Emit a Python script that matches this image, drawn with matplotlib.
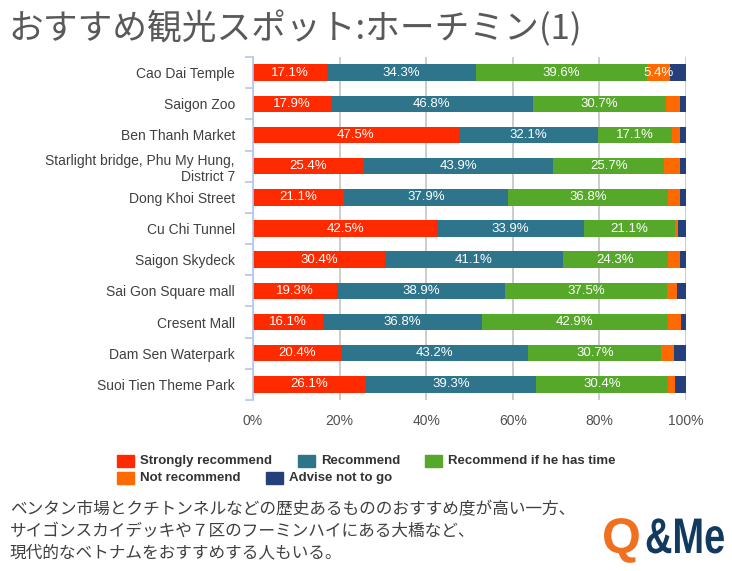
import matplotlib.pyplot as plt
from matplotlib.patches import Rectangle, PathPatch
from matplotlib.textpath import TextPath
from matplotlib.font_manager import FontProperties
from matplotlib.ticker import FixedLocator
from matplotlib.transforms import Affine2D, IdentityTransform

plt.rcParams['font.family'] = ['Liberation Sans', 'DejaVu Sans']

# data (% of respondents)
spots = ['Cao Dai Temple', 'Saigon Zoo', 'Ben Thanh Market',
         'Starlight bridge, Phu My Hung,\nDistrict 7', 'Dong Khoi Street',
         'Cu Chi Tunnel', 'Saigon Skydeck', 'Sai Gon Square mall',
         'Cresent Mall', 'Dam Sen Waterpark', 'Suoi Tien Theme Park']
strongly = [17.1, 17.9, 47.5, 25.4, 21.1, 42.5, 30.4, 19.3, 16.1, 20.4, 26.1]
recommend = [34.3, 46.8, 32.1, 43.9, 37.9, 33.9, 41.1, 38.9, 36.8, 43.2, 39.3]
if_time = [39.6, 30.7, 17.1, 25.7, 36.8, 21.1, 24.3, 37.5, 42.9, 30.7, 30.4]
not_rec = [5.4, 3.3, 1.8, 3.6, 2.8, 0.7, 2.8, 2.3, 3.0, 2.9, 1.7]
advise_not = [3.6, 1.3, 1.5, 1.4, 1.4, 1.8, 1.4, 2.0, 1.2, 2.8, 2.5]

series_names = ['Strongly recommend', 'Recommend', 'Recommend if he has time',
                'Not recommend', 'Advise not to go']
colors = ['#ff2a00', '#2e758c', '#56a82a', '#ff6a00', '#253f7a']
x_ticks = [0, 20, 40, 60, 80, 100]

title = 'おすすめ観光スポット:ホーチミン(1)'
note = ['ベンタン市場とクチトンネルなどの歴史あるもののおすすめ度が高い一方、',
        'サイゴンスカイデッキや７区のフーミンハイにある大橋など、',
        '現代的なベトナムをおすすめする人もいる。']

W, H = 732, 571
fig = plt.figure(figsize=(W / 100, H / 100), dpi=100)
ax = fig.add_axes([253 / W, 1 - 400 / H, 433 / W, 343 / H])

y = list(range(len(spots)))
left = [0.0] * len(spots)
for vals, name, col in zip([strongly, recommend, if_time, not_rec, advise_not],
                           series_names, colors):
    ax.barh(y, vals, left=left, height=0.53, color=col, label=name, zorder=2)
    for i, v in enumerate(vals):
        if v >= 5:
            ax.text(left[i] + v / 2, i, f'{v:.1f}%', ha='center', va='center',
                    color='white', fontsize=9.5, zorder=3)
    left = [l + v for l, v in zip(left, vals)]

ax.set_xlim(0, 100)
ax.set_ylim(len(spots) - 0.5, -0.5)
ax.set_xticks(x_ticks)
ax.set_xticklabels([f'{t}%' for t in x_ticks], fontsize=10, color='#505050')
ax.tick_params(axis='x', length=0, pad=10)
ax.grid(axis='x', color='#c8c8c8', linewidth=1.3, zorder=0)
ax.set_axisbelow(True)

ax.set_yticks(y)
ax.set_yticklabels(spots, fontsize=10, color='#404040')
ax.tick_params(axis='y', which='major', length=0, pad=13)
ax.yaxis.set_minor_locator(FixedLocator([i - 0.5 for i in range(len(spots) + 1)]))
ax.tick_params(axis='y', which='minor', length=6, color='#b4c7e7', width=1.2)

for s in ['top', 'right', 'bottom']:
    ax.spines[s].set_visible(False)
ax.spines['left'].set_color('#b4c7e7')
ax.spines['left'].set_linewidth(1.2)

# title
fig.text(8 / W, 1 - 29 / H, title, fontsize=25, color='#595959',
         family=['Noto Sans CJK JP'], va='center', ha='left')

# legend drawn by hand to follow the reference layout
leg_pos = [(117, 461), (298, 461), (425, 461), (117, 478), (266, 478)]
for (px, py), name, col in zip(leg_pos, series_names, colors):
    fig.patches.append(Rectangle((px / W, 1 - (py + 6) / H), 17 / W, 12 / H,
                                 transform=fig.transFigure, color=col))
    fig.text((px + 23) / W, 1 - py / H, name, fontsize=9.5, fontweight='bold',
             color='#333333', va='center', ha='left')

# note text
for k, line in enumerate(note):
    fig.text(10 / W, 1 - (510 + 21.5 * k) / H, line, fontsize=12,
             color='#404040', family=['Noto Sans CJK JP'], va='center', ha='left')

# logo, squeezed glyph outlines in pixel coordinates
logo_font = FontProperties(family='Liberation Sans', weight='bold')
for txt, x0, sx, col in [('Q', 602, 1.0, '#f07020'), ('&Me', 645, 0.76, '#123a5e')]:
    tp = TextPath((0, 0), txt, size=50, prop=logo_font)
    tr = Affine2D().scale(sx, 1.0).translate(x0, H - 553) + IdentityTransform()
    fig.patches.append(PathPatch(tp, transform=tr, color=col, lw=0))

fig.savefig('out.png', dpi=100)
